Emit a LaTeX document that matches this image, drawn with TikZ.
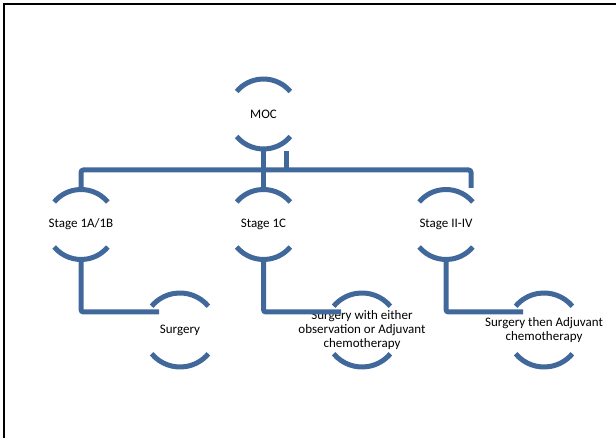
\documentclass[tikz,border=0pt]{standalone}
\usepackage{fontspec}
\setmainfont{Carlito}
\usepackage{tikz}
\usepackage{xcolor}
\definecolor{smartblue}{RGB}{64,104,155}
\tikzset{
    ring-node/.style = {circle, minimum size=70pt, inner sep=0pt, outer sep=0pt},
    ring-big/.style = {ring-node, minimum size=74pt},
    ring-text/.style = {align=center, inner sep=0pt, font=\fontsize{13}{14}\selectfont},
    ring-arc/.style = {draw=smartblue, line width=5pt},
    link/.style = {draw=smartblue, line width=5pt, rounded corners=2.5pt},
}
\newcommand{\ringarcs}[2]{%
  \draw[ring-arc] (#1.40) arc[start angle=40, end angle=140, radius=#2];
  \draw[ring-arc] (#1.-140) arc[start angle=-140, end angle=-40, radius=#2];}

\begin{document}
\begin{tikzpicture}[x=1pt, y=1pt]
\useasboundingbox (0,0) rectangle (616,438);
\draw[line width=2pt] (4,0) -- (4,434) -- (616,434);

\node[ring-node, label={[ring-text]center:MOC}] (moc) at (263.5,324) {};
\node[ring-node, label={[ring-text]center:Stage 1A/1B}] (stageA) at (81,213.5) {};
\node[ring-node, label={[ring-text]center:Stage 1C}] (stageB) at (263.5,213.5) {};
\node[ring-node, label={[ring-text]center:Stage II-IV}] (stageC) at (446,213.5) {};
\node[ring-big, label={[ring-text]center:Surgery}] (surgA) at (180,108) {};
\node[ring-big, label={[ring-text]center:Surgery with either\\observation or Adjuvant\\chemotherapy}] (surgB) at (362,108) {};
\node[ring-big, label={[ring-text]center:Surgery then Adjuvant\\chemotherapy}] (surgC) at (544,108) {};

\ringarcs{moc}{35pt}
\ringarcs{stageA}{35pt}
\ringarcs{stageB}{35pt}
\ringarcs{stageC}{35pt}
\ringarcs{surgA}{37pt}
\ringarcs{surgB}{37pt}
\ringarcs{surgC}{37pt}

\coordinate (stageC-in) at ([xshift=25pt, yshift=1.5pt]stageC.north);
\coordinate (stub) at (286,287);
\draw[link] (stageA.north) -- ++(0,19.5) -| (stageC-in);
\draw[link] (moc.south) -- (stageB.north);
\draw[link] (stub) -- ++(0,-19);

\draw[link] (stageA.south) |- ([xshift=-21pt, yshift=18pt]surgA.center);
\draw[link] (stageB.south) |- ([xshift=-21pt, yshift=18pt]surgB.center);
\draw[link] (stageC.south) |- ([xshift=-21pt, yshift=18pt]surgC.center);
\end{tikzpicture}
\end{document}
